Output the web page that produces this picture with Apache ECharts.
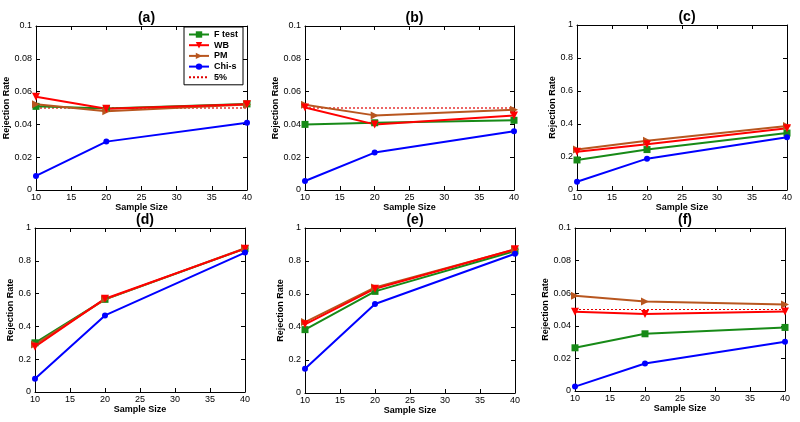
<!DOCTYPE html>
<html><head><meta charset="utf-8">
<script src="https://cdn.jsdelivr.net/npm/echarts@6/dist/echarts.min.js"></script>
<style>html,body{margin:0;padding:0;background:#fff}#c{width:800px;height:422px}</style>
</head><body><div id="c"></div>
<script>
// ---- data ----
const sampleSizes = [10, 20, 40];
const xTicks = [10, 15, 20, 25, 30, 35, 40];
const yTicksRate = [0, 0.02, 0.04, 0.06, 0.08, 0.1];
const yTicksPower = [0, 0.2, 0.4, 0.6, 0.8, 1];
const panelTitles = ['(a)', '(b)', '(c)', '(d)', '(e)', '(f)'];
const seriesNames = ['F test', 'WB', 'PM', 'Chi-s', '5%'];
const nominalX = [10, 40];
const nominalLevel = [0.05, 0.05];

const aFtest = [0.051, 0.0497, 0.0525];
const aWB    = [0.0568, 0.0495, 0.0523];
const aPM    = [0.0523, 0.048, 0.0521];
const aChi   = [0.0086, 0.0295, 0.041];

const bFtest = [0.040, 0.041, 0.0425];
const bWB    = [0.0503, 0.040, 0.0455];
const bPM    = [0.052, 0.0455, 0.049];
const bChi   = [0.0055, 0.0228, 0.0358];

const cFtest = [0.182, 0.245, 0.345];
const cWB    = [0.232, 0.277, 0.374];
const cPM    = [0.246, 0.299, 0.388];
const cChi   = [0.05, 0.19, 0.32];

const dFtest = [0.30, 0.565, 0.874];
const dWB    = [0.276, 0.569, 0.874];
const dPM    = [0.289, 0.565, 0.877];
const dChi   = [0.081, 0.467, 0.85];

const eFtest = [0.384, 0.616, 0.861];
const eWB    = [0.416, 0.632, 0.871];
const ePM    = [0.43, 0.64, 0.87];
const eChi   = [0.147, 0.539, 0.844];

const fFtest = [0.0265, 0.0351, 0.039];
const fWB    = [0.0486, 0.0473, 0.0488];
const fPM    = [0.0584, 0.0549, 0.0531];
const fChi   = [0.0027, 0.0169, 0.0302];

// ---- build ----
const panels = [
  {F: aFtest, W: aWB, P: aPM, C: aChi, y: yTicksRate, ref: true},
  {F: bFtest, W: bWB, P: bPM, C: bChi, y: yTicksRate, ref: true},
  {F: cFtest, W: cWB, P: cPM, C: cChi, y: yTicksPower, ref: false},
  {F: dFtest, W: dWB, P: dPM, C: dChi, y: yTicksPower, ref: false},
  {F: eFtest, W: eWB, P: ePM, C: eChi, y: yTicksPower, ref: false},
  {F: fFtest, W: fWB, P: fPM, C: fChi, y: yTicksRate, ref: true}
];
// layout (pixels): left, top, width, height, yNameGap
const boxes = [
  [36, 26, 211, 164, 21],
  [305, 26, 209, 164, 22],
  [577, 25, 210, 165, 19],
  [35, 228, 210, 164, 17],
  [305, 228, 210, 165, 16],
  [575, 228, 210, 163, 20]
];
const FONT = '"Liberation Sans", Arial, sans-serif';
const colors = {F: '#178a17', W: '#ff0000', P: '#b8561f', C: '#0000ff', R: '#e00000'};

const grid = [], xAxis = [], yAxis = [], series = [], title = [];
const pair = arr => arr.map((v, i) => [sampleSizes[i], v]);

panels.forEach((p, gi) => {
  const [l, t, w, h, yGap] = boxes[gi];
  grid.push({left: l, top: t, width: w, height: h, containLabel: false});
  title.push({text: panelTitles[gi], left: l + w / 2, top: t - 20, textAlign: 'center',
    textStyle: {fontFamily: FONT, fontSize: 14, fontWeight: 'bold', color: '#000'}});
  const yMin = p.y[0], yMax = p.y[p.y.length - 1], yInt = p.y[1] - p.y[0];
  const xMin = xTicks[0], xMax = xTicks[xTicks.length - 1], xInt = xTicks[1] - xTicks[0];
  const line = {show: true, onZero: false, lineStyle: {color: '#000', width: 1}};
  const tick = {show: true, inside: true, length: 4, lineStyle: {color: '#000'}};
  xAxis.push({type: 'value', gridIndex: gi, min: xMin, max: xMax, interval: xInt, position: 'bottom',
    axisLine: line, axisTick: tick, splitLine: {show: false},
    axisLabel: {fontFamily: FONT, fontSize: 9, color: '#000', margin: 3},
    name: 'Sample Size', nameLocation: 'middle', nameGap: 13,
    nameTextStyle: {fontFamily: FONT, fontSize: 9, fontWeight: 'bold', color: '#000'}});
  xAxis.push({type: 'value', gridIndex: gi, min: xMin, max: xMax, interval: xInt, position: 'top',
    axisLine: line, axisTick: tick, splitLine: {show: false}, axisLabel: {show: false}});
  yAxis.push({type: 'value', gridIndex: gi, min: yMin, max: yMax, interval: yInt, position: 'left',
    axisLine: line, axisTick: tick, splitLine: {show: false},
    axisLabel: {fontFamily: FONT, fontSize: 9, color: '#000', margin: 4},
    name: 'Rejection Rate', nameLocation: 'middle', nameGap: yGap,
    nameTextStyle: {fontFamily: FONT, fontSize: 9, fontWeight: 'bold', color: '#000'}});
  yAxis.push({type: 'value', gridIndex: gi, min: yMin, max: yMax, interval: yInt, position: 'right',
    axisLine: line, axisTick: tick, splitLine: {show: false}, axisLabel: {show: false}});

  const base = {type: 'line', xAxisIndex: gi * 2, yAxisIndex: gi * 2, animation: false, silent: true};
  if (p.ref) {
    series.push(Object.assign({}, base, {name: seriesNames[4], data: nominalX.map((x, i) => [x, nominalLevel[i]]),
      symbol: 'none', lineStyle: {color: colors.R, width: 1.2, type: [2, 2]}, itemStyle: {color: colors.R}}));
  }
  series.push(Object.assign({}, base, {name: seriesNames[0], data: pair(p.F), symbol: 'rect', symbolSize: 7,
    lineStyle: {color: colors.F, width: 2}, itemStyle: {color: colors.F}}));
  series.push(Object.assign({}, base, {name: seriesNames[2], data: pair(p.P), symbol: 'triangle', symbolRotate: -90, symbolSize: 8,
    lineStyle: {color: colors.P, width: 2}, itemStyle: {color: colors.P}}));
  series.push(Object.assign({}, base, {name: seriesNames[1], data: pair(p.W), symbol: 'triangle', symbolRotate: 180, symbolSize: 8,
    lineStyle: {color: colors.W, width: 2}, itemStyle: {color: colors.W}}));
  series.push(Object.assign({}, base, {name: seriesNames[3], data: pair(p.C), symbol: 'circle', symbolSize: 6,
    lineStyle: {color: colors.C, width: 2}, itemStyle: {color: colors.C}}));
});

const legendData = seriesNames.map(n => n === '5%'
  ? {name: n, itemStyle: {opacity: 0}}
  : {name: n});

const chart = echarts.init(document.getElementById('c'), null, {renderer: 'canvas'});
chart.setOption({
  backgroundColor: '#fff',
  animation: false,
  title: title,
  grid: grid,
  xAxis: xAxis,
  yAxis: yAxis,
  legend: {
    data: legendData,
    left: 184, top: 27, orient: 'vertical',
    backgroundColor: '#fff', borderColor: '#000', borderWidth: 1,
    padding: [3, 5, 3, 4], itemGap: 1.7, itemWidth: 20, itemHeight: 8,
    selectedMode: false,
    textStyle: {fontFamily: FONT, fontSize: 9, lineHeight: 9, fontWeight: 'bold', color: '#000'}
  },
  series: series
});
</script>
</body></html>
